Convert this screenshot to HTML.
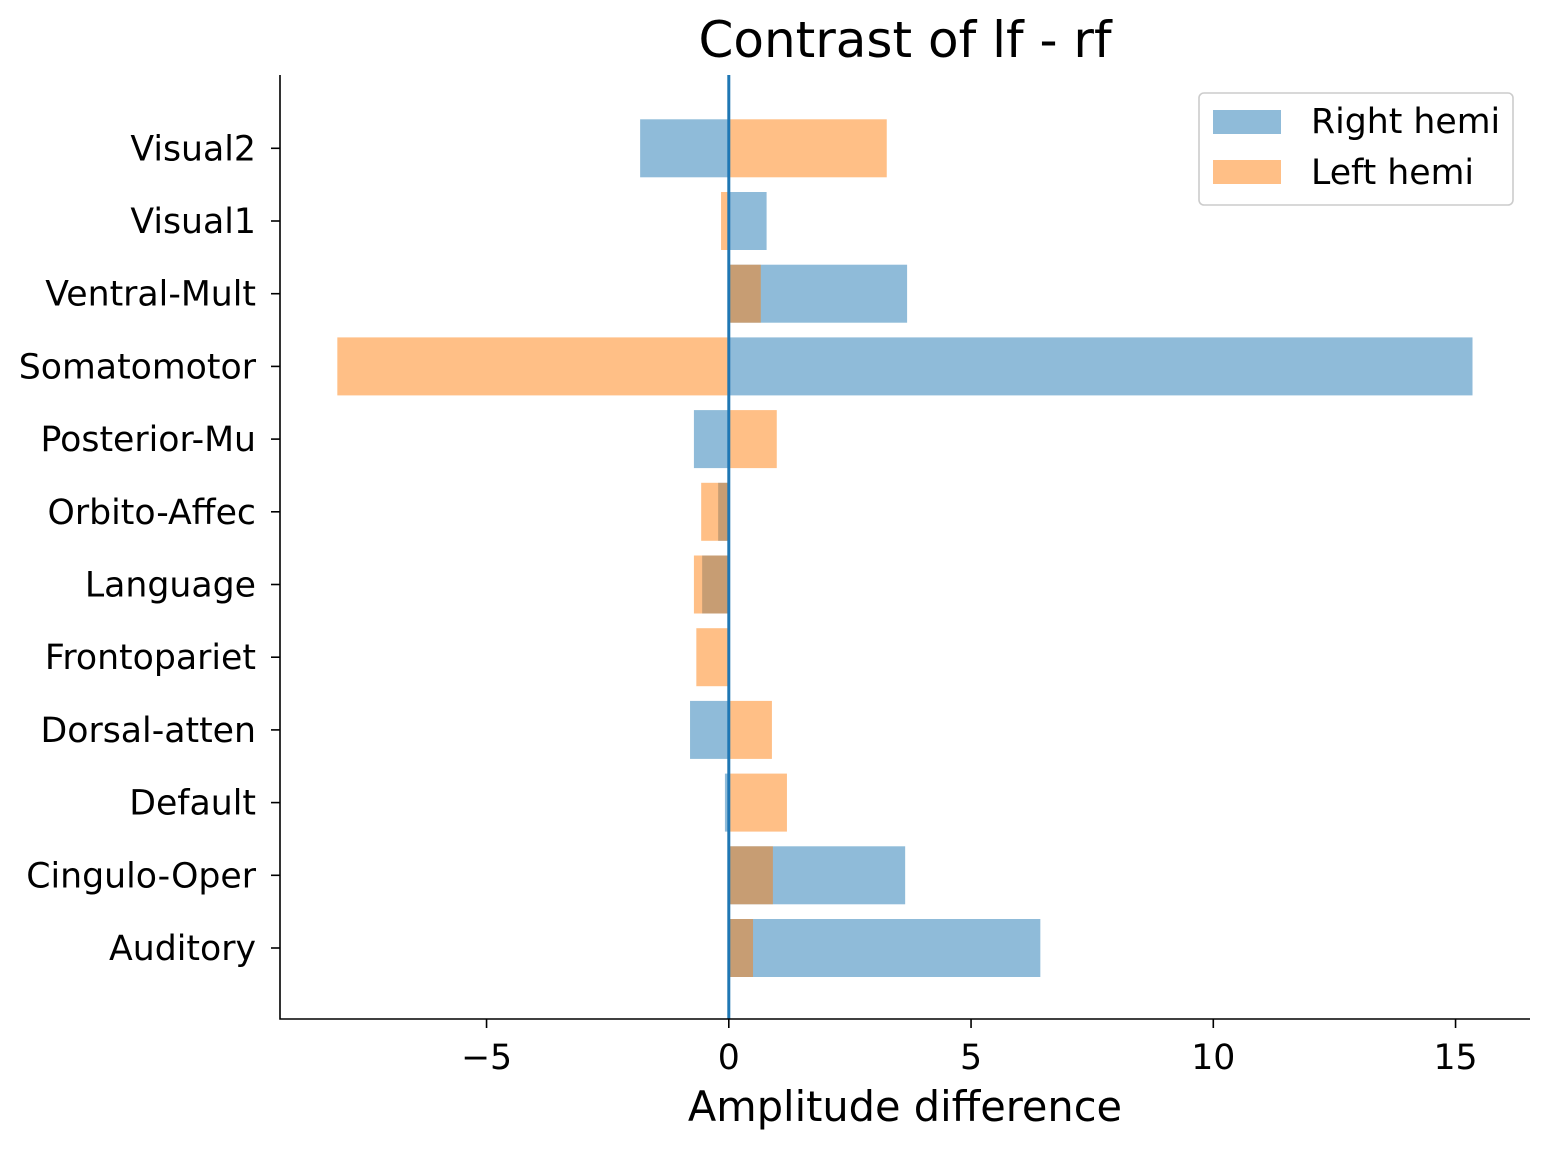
<!DOCTYPE html>
<html><head><meta charset="utf-8"><style>body{margin:0;background:#fff}svg{display:block}text{font-family:"DejaVu Sans","Liberation Sans",sans-serif;fill:#000}</style></head>
<body>
<svg id="chart" width="1550" height="1150"></svg>
<script>
const categories=["Auditory","Cingulo-Oper","Default","Dorsal-atten","Frontopariet","Language","Orbito-Affec","Posterior-Mu","Somatomotor","Ventral-Mult","Visual1","Visual2"];
const rightHemi=[6.43,3.64,-0.08,-0.8,-0.02,-0.55,-0.22,-0.72,15.35,3.68,0.78,-1.83];
const leftHemi=[0.5,0.91,1.2,0.89,-0.67,-0.72,-0.57,0.99,-8.08,0.66,-0.16,3.26];
const xTicks=[-5,0,5,10,15];
const xTickLabels=["\u22125","0","5","10","15"];
const svg=document.getElementById('chart');
const NS='http://www.w3.org/2000/svg';
const L=280,R=1530,T=75,B=1019;
const x=v=>728.8+v*48.45;
const y=i=>948-i*72.7;
function mk(tag,attrs,parent){const e=document.createElementNS(NS,tag);for(const k in attrs)e.setAttribute(k,attrs[k]);(parent||svg).appendChild(e);return e;}
function bars(vals,color,name){vals.forEach((v,i)=>{const r=mk('rect',{x:Math.min(x(0),x(v)),y:y(i)-29,width:Math.abs(x(v)-x(0)),height:58,fill:color,'fill-opacity':0.5});

});}
bars(rightHemi,'#1f77b4','right-hemi');
bars(leftHemi,'#ff7f0e','left-hemi');
const zl=mk('line',{x1:x(0),x2:x(0),y1:T,y2:B,stroke:'#1f77b4','stroke-width':3});


const ax=mk('path',{d:`M${L},${T}V${B}H${R}`,fill:'none',stroke:'#000','stroke-width':1.6});


categories.forEach((c,i)=>{mk('line',{x1:L-9,x2:L,y1:y(i),y2:y(i),stroke:'#000','stroke-width':1.6});
const t=mk('text',{x:L-24,y:y(i)+12,'text-anchor':'end','font-size':34.7});t.textContent=c;

});
xTicks.forEach((v,i)=>{mk('line',{x1:x(v),x2:x(v),y1:B,y2:B+9,stroke:'#000','stroke-width':1.6});
const t=mk('text',{x:x(v),y:B+50,'text-anchor':'middle','font-size':34.7});t.textContent=xTickLabels[i];

});
const xt=mk('text',{x:905,y:1121,'text-anchor':'middle','font-size':41.5});xt.textContent='Amplitude difference';


const tt=mk('text',{x:905,y:57,'text-anchor':'middle','font-size':50});tt.textContent='Contrast of lf - rf';


const lg=mk('g',{});


mk('rect',{x:1199,y:93,width:314,height:112,rx:5,fill:'#fff',stroke:'#ccc','stroke-width':1.6},lg);
mk('rect',{x:1213,y:110,width:68,height:24,fill:'#1f77b4','fill-opacity':0.5},lg);
mk('rect',{x:1213,y:160,width:68,height:24,fill:'#ff7f0e','fill-opacity':0.5},lg);
const l1=mk('text',{x:1311,y:133,'font-size':34.7},lg);l1.textContent='Right hemi';


const l2=mk('text',{x:1311,y:184,'font-size':34.7},lg);l2.textContent='Left hemi';


</script>
</body></html>
